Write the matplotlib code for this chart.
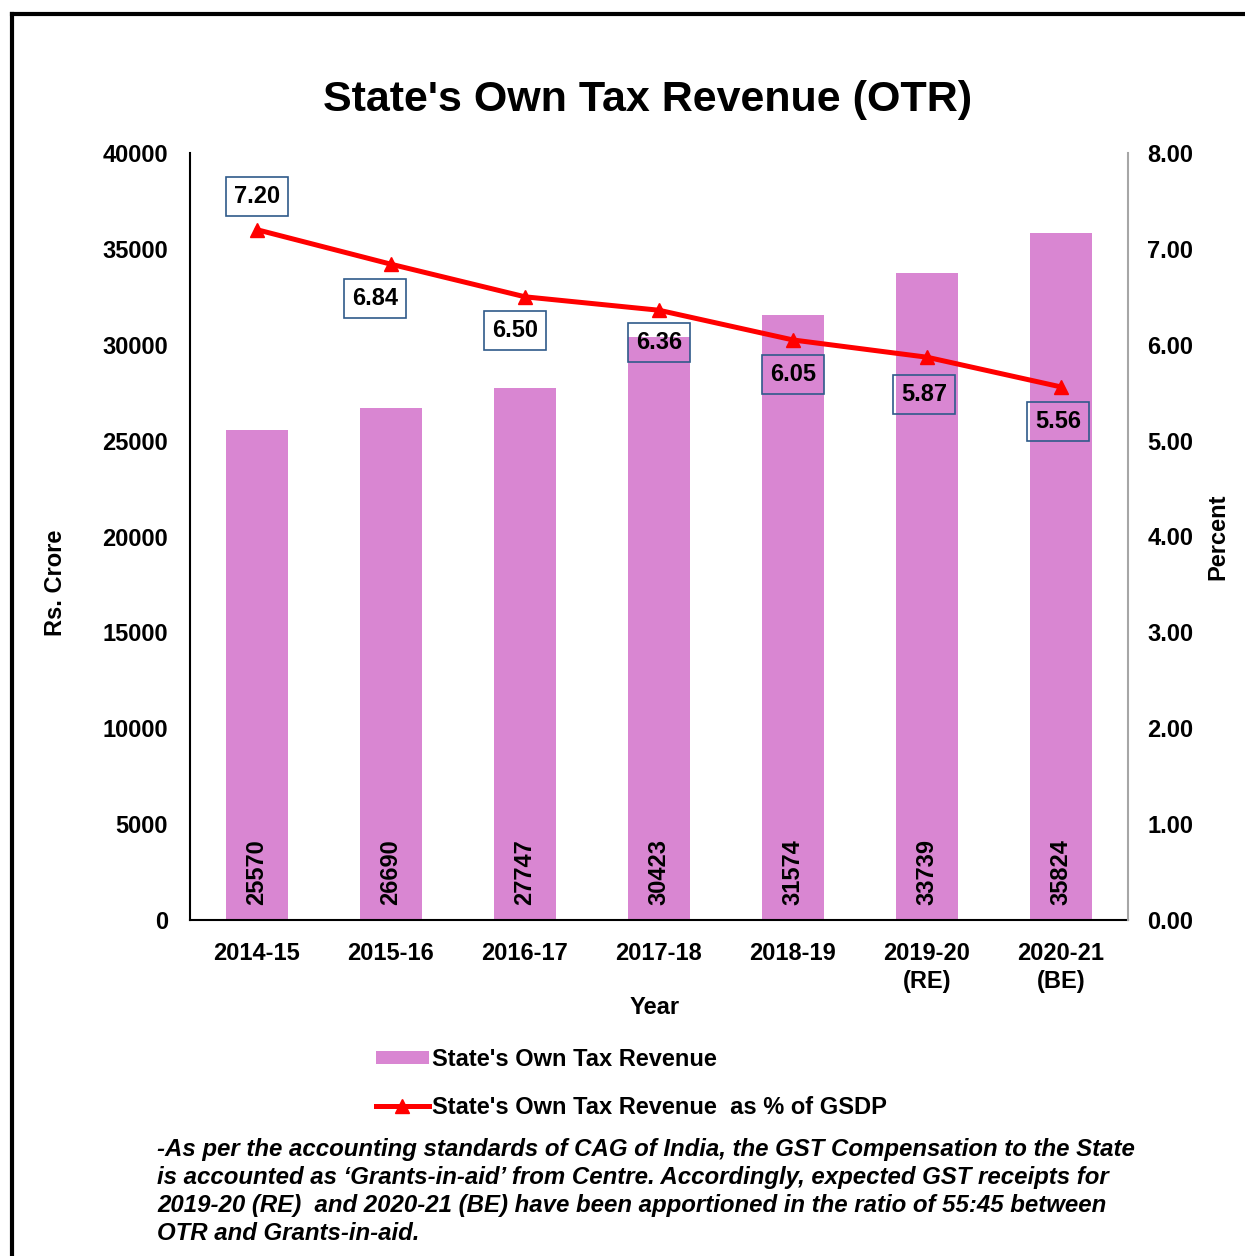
import matplotlib
matplotlib.use("Agg")
import matplotlib.pyplot as plt
from matplotlib.lines import Line2D
from matplotlib.patches import Patch

# ── Data ───────────────────────────────────────────────────────────────────────
years = ["2014-15", "2015-16", "2016-17", "2017-18", "2018-19",
         "2019-20\n(RE)", "2020-21\n(BE)"]
otr = [25570, 26690, 27747, 30423, 31574, 33739, 35824]
otr_pct_gsdp = [7.20, 6.84, 6.50, 6.36, 6.05, 5.87, 5.56]

# ── Style ──────────────────────────────────────────────────────────────────────
PINK = "#D986D2"
RED = "#FF0000"
NAVY = "#2F5A8A"
FONT = "Liberation Sans"
FS = 17
W, H = 1245, 1256

plt.rcParams["font.family"] = [FONT, "DejaVu Sans"]
plt.rcParams["font.weight"] = "bold"

fig = plt.figure(figsize=(W / 100, H / 100), dpi=100)
fig.patch.set_facecolor("white")

# axes box in pixel coords of the reference: x 190..1128, y 153..920
ax = fig.add_axes([190 / W, 1 - 920 / H, (1128 - 190) / W, (920 - 153) / H])
ax2 = ax.twinx()

x = list(range(len(years)))
ax.bar(x, otr, width=0.46, color=PINK, zorder=2)
ax.set_xlim(-0.5, len(years) - 0.5)
ax.set_ylim(0, 40000)
ax.set_yticks(range(0, 40001, 5000))
ax.set_xticks(x)
ax.set_xticklabels(years, fontsize=FS, fontweight="bold", linespacing=1.3)
ax.tick_params(axis="both", length=0, labelsize=FS)
ax.tick_params(axis="y", pad=16)
ax.tick_params(axis="x", pad=15.5)
for t in ax.get_yticklabels():
    t.set_fontweight("bold")

for s in ["top", "right"]:
    ax.spines[s].set_visible(False)
ax.spines["left"].set_color("black")
ax.spines["left"].set_linewidth(1.5)
ax.spines["bottom"].set_color("black")
ax.spines["bottom"].set_linewidth(1.5)

# values inside the bars
for xi, v in zip(x, otr):
    ax.text(xi, 780, f"{v}", rotation=90, ha="center", va="bottom",
            fontsize=FS, fontweight="bold", zorder=4)

# line on right axis
ax2.plot(x, otr_pct_gsdp, color=RED, lw=3.6, marker="^", markersize=10,
         zorder=5)
ax2.set_ylim(0, 8)
ax2.set_yticks([i for i in range(9)])
ax2.set_yticklabels([f"{i:.2f}" for i in range(9)], fontsize=FS,
                    fontweight="bold")
ax2.tick_params(axis="y", length=0, pad=14)
for s in ["top", "left", "bottom"]:
    ax2.spines[s].set_visible(False)
ax2.spines["right"].set_color("#A6A6A6")
ax2.spines["right"].set_linewidth(1.5)

label_offsets = [(0, 33), (-16, -34), (-10, -34), (0, -32),
                 (0, -35), (-3, -37), (-3, -35)]
for xi, v, off in zip(x, otr_pct_gsdp, label_offsets):
    ax2.annotate(f"{v:.2f}", (xi, v), xytext=off, textcoords="offset pixels",
                 ha="center", va="center", fontsize=FS, fontweight="bold",
                 bbox=dict(boxstyle="square,pad=0.34", fc="none", ec=NAVY,
                           lw=1.2), zorder=6)

# titles and axis labels
fig.text(648 / W, 1 - 100 / H, "State's Own Tax Revenue (OTR)",
         ha="center", va="center", fontsize=31, fontweight="bold")
fig.text(55 / W, 1 - 583 / H, "Rs. Crore", rotation=90, ha="center",
         va="center", fontsize=FS, fontweight="bold")
fig.text(1218 / W, 1 - 537 / H, "Percent", rotation=90, ha="center",
         va="center", fontsize=FS, fontweight="bold")
fig.text(655 / W, 1 - 1008 / H, "Year", ha="center", va="center",
         fontsize=FS, fontweight="bold")

# legend
handles = [Patch(facecolor=PINK, edgecolor="none"),
           Line2D([0], [0], color=RED, lw=3.6, marker="^", markersize=10)]
labels = ["State's Own Tax Revenue",
          "State's Own Tax Revenue  as % of GSDP"]
leg = fig.legend(handles, labels, loc="upper left",
                 bbox_to_anchor=(364 / W, 1 - 1036 / H), frameon=False,
                 fontsize=FS, handlelength=2.25, handleheight=0.5,
                 handletextpad=0.15, labelspacing=1.05, borderpad=0)
for t in leg.get_texts():
    t.set_fontweight("bold")

# footnote
note = ("-As per the accounting standards of CAG of India, the GST Compensation to the State\n"
        "is accounted as \u2018Grants-in-aid\u2019 from Centre. Accordingly, expected GST receipts for\n"
        "2019-20 (RE)  and 2020-21 (BE) have been apportioned in the ratio of 55:45 between\n"
        "OTR and Grants-in-aid.")
fig.text(157 / W, 1 - 1138 / H, note, ha="left", va="top", fontsize=17.3,
         fontweight="bold", fontstyle="italic", linespacing=1.27)

# outer frame (left and top edges visible)
fig.add_artist(Line2D([12 / W, 12 / W], [0, 1 - 14 / H], color="black",
                      lw=3, transform=fig.transFigure))
fig.add_artist(Line2D([12 / W, 1], [1 - 14 / H, 1 - 14 / H], color="black",
                      lw=3, transform=fig.transFigure))

fig.savefig("out.png", dpi=100, facecolor="white")
